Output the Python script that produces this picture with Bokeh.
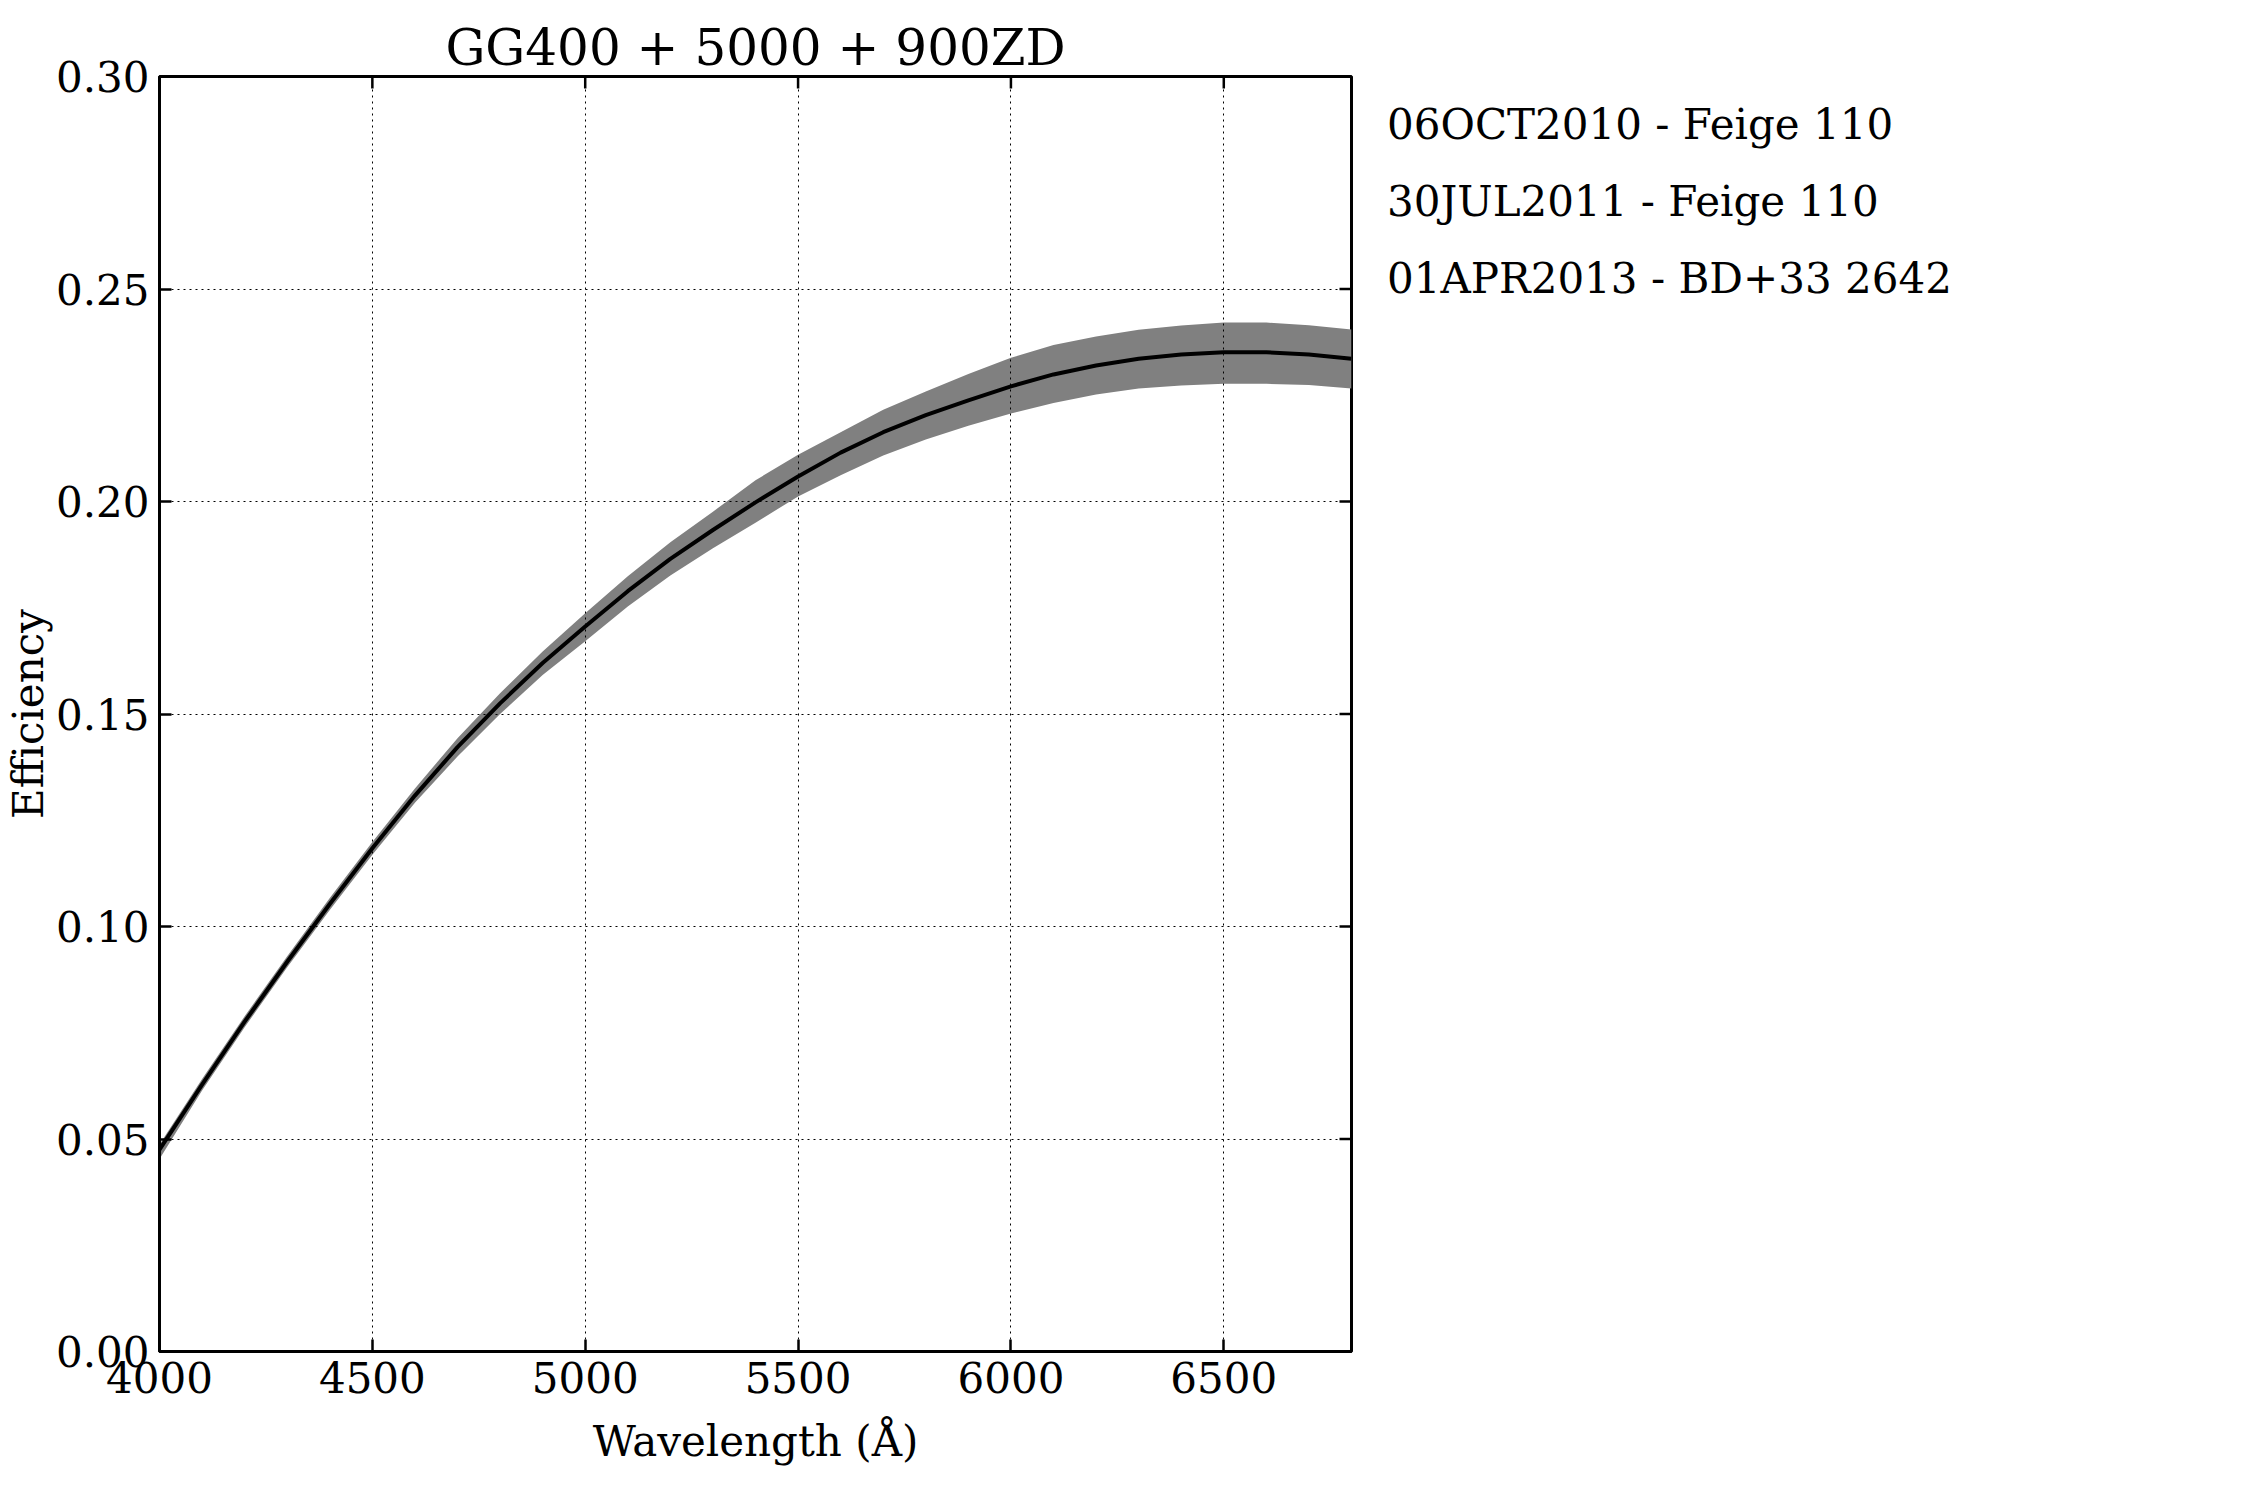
from bokeh.plotting import figure
from bokeh.models import FixedTicker, PrintfTickFormatter, Range1d, Legend, LegendItem
from bokeh.embed import file_html
from bokeh.resources import INLINE

# ---- data ----
wavelength = [4000, 4100, 4200, 4300, 4400, 4500, 4600, 4700, 4800, 4900,
              5000, 5100, 5200, 5300, 5400, 5500, 5600, 5700, 5800, 5900,
              6000, 6100, 6200, 6300, 6400, 6500, 6600, 6700, 6800]
efficiency = [0.0475, 0.0628, 0.0776, 0.0917, 0.1053, 0.1184, 0.1308, 0.1422, 0.1525, 0.1620,
              0.1706, 0.1789, 0.1865, 0.1933, 0.1998, 0.2059, 0.2115, 0.2163, 0.2203, 0.2238,
              0.2271, 0.2299, 0.2320, 0.2336, 0.2346, 0.2351, 0.2351, 0.2346, 0.2336]
eff_upper = [0.0487, 0.0641, 0.0789, 0.0930, 0.1067, 0.1199, 0.1325, 0.1443, 0.1549, 0.1647,
             0.1737, 0.1824, 0.1904, 0.1976, 0.2050, 0.2110, 0.2163, 0.2216, 0.2259, 0.2300,
             0.2338, 0.2368, 0.2388, 0.2404, 0.2414, 0.2421, 0.2421, 0.2415, 0.2405]
eff_lower = [0.0453, 0.0614, 0.0763, 0.0904, 0.1039, 0.1169, 0.1291, 0.1400, 0.1500, 0.1592,
             0.1671, 0.1753, 0.1826, 0.1890, 0.1950, 0.2012, 0.2062, 0.2108, 0.2146, 0.2178,
             0.2207, 0.2232, 0.2252, 0.2266, 0.2273, 0.2277, 0.2277, 0.2274, 0.2266]
legend_entries = ["06OCT2010 - Feige 110", "30JUL2011 - Feige 110", "01APR2013 - BD+33 2642"]
x_ticks = [4000, 4500, 5000, 5500, 6000, 6500]
y_ticks = [0.00, 0.05, 0.10, 0.15, 0.20, 0.25, 0.30]

FONT = "DejaVu Serif"
X0, X1 = 4000, 6800
Y0, Y1 = 0.0, 0.30
FW, FH = 1192, 1275
TICK = 12  # inward tick length, px

p = figure(frame_width=FW, frame_height=FH,
           x_range=Range1d(X0, X1), y_range=Range1d(Y0, Y1),
           output_backend="svg", toolbar_location=None,
           min_border_left=147, min_border_right=894,
           min_border_top=76, min_border_bottom=142,
           title="GG400 + 5000 + 900ZD")
p.background_fill_color = "white"
p.border_fill_color = "white"
p.outline_line_color = "black"
p.outline_line_width = 3

p.title.text_font = FONT
p.title.text_font_size = "50px"
p.title.text_font_style = "normal"
p.title.text_color = "black"
p.title.align = "center"
p.title.standoff = 0
p.title.offset = 0

# data
p.varea(x=wavelength, y1=eff_lower, y2=eff_upper, fill_color="#808080", fill_alpha=1.0)
p.line(x=wavelength, y=efficiency, line_color="black", line_width=4)

xt = FixedTicker(ticks=x_ticks)
yt = FixedTicker(ticks=y_ticks)
p.xaxis.ticker = xt
p.yaxis.ticker = yt
p.yaxis.formatter = PrintfTickFormatter(format="%.2f")
for ax in p.xaxis + p.yaxis:
    ax.axis_line_color = "black"
    ax.axis_line_width = 3
    ax.major_tick_in = TICK
    ax.major_tick_out = 0
    ax.major_tick_line_width = 2.5
    ax.major_tick_line_color = "black"
    ax.minor_tick_line_color = None
    ax.major_label_text_font = FONT
    ax.major_label_text_font_size = "42px"
    ax.major_label_text_color = "black"
    ax.major_label_standoff = 10
    ax.axis_label_text_font = FONT
    ax.axis_label_text_font_size = "42px"
    ax.axis_label_text_font_style = "normal"
    ax.axis_label_text_color = "black"
p.xaxis.axis_label = "Wavelength (Å)"
p.yaxis.axis_label = "Efficiency"
p.xaxis.axis_label_standoff = 21
p.yaxis.axis_label_standoff = 0

# inward ticks on the top and right edges (mirrored from the tick arrays)
px_per_x = FW / (X1 - X0)
px_per_y = FH / (Y1 - Y0)
p.segment(x0=x_ticks, y0=[Y1] * len(x_ticks), x1=x_ticks,
          y1=[Y1 - TICK / px_per_y] * len(x_ticks), line_color="black", line_width=2.5)
p.segment(x0=[X1] * len(y_ticks), y0=y_ticks, x1=[X1 - TICK / px_per_x] * len(y_ticks),
          y1=y_ticks, line_color="black", line_width=2.5)

for g in (p.xgrid[0], p.ygrid[0]):
    g.grid_line_color = "black"
    g.grid_line_width = 1
    g.grid_line_dash = "2 4"
    g.level = "overlay"
p.xgrid.ticker = xt
p.ygrid.ticker = yt

# legend: text-only entries to the right of the frame
items = []
for txt in legend_entries:
    r = p.line(x=[], y=[], line_alpha=0)
    items.append(LegendItem(label=txt, renderers=[r]))
legend = Legend(items=items, location="top_left",
                label_text_font=FONT, label_text_font_size="42px", label_text_color="black",
                glyph_width=10, glyph_height=77, label_height=77, label_standoff=16,
                spacing=0, padding=12, margin=10,
                border_line_color=None, background_fill_alpha=0)
p.add_layout(legend, "right")

open("out.html", "w").write(file_html(p, INLINE))
